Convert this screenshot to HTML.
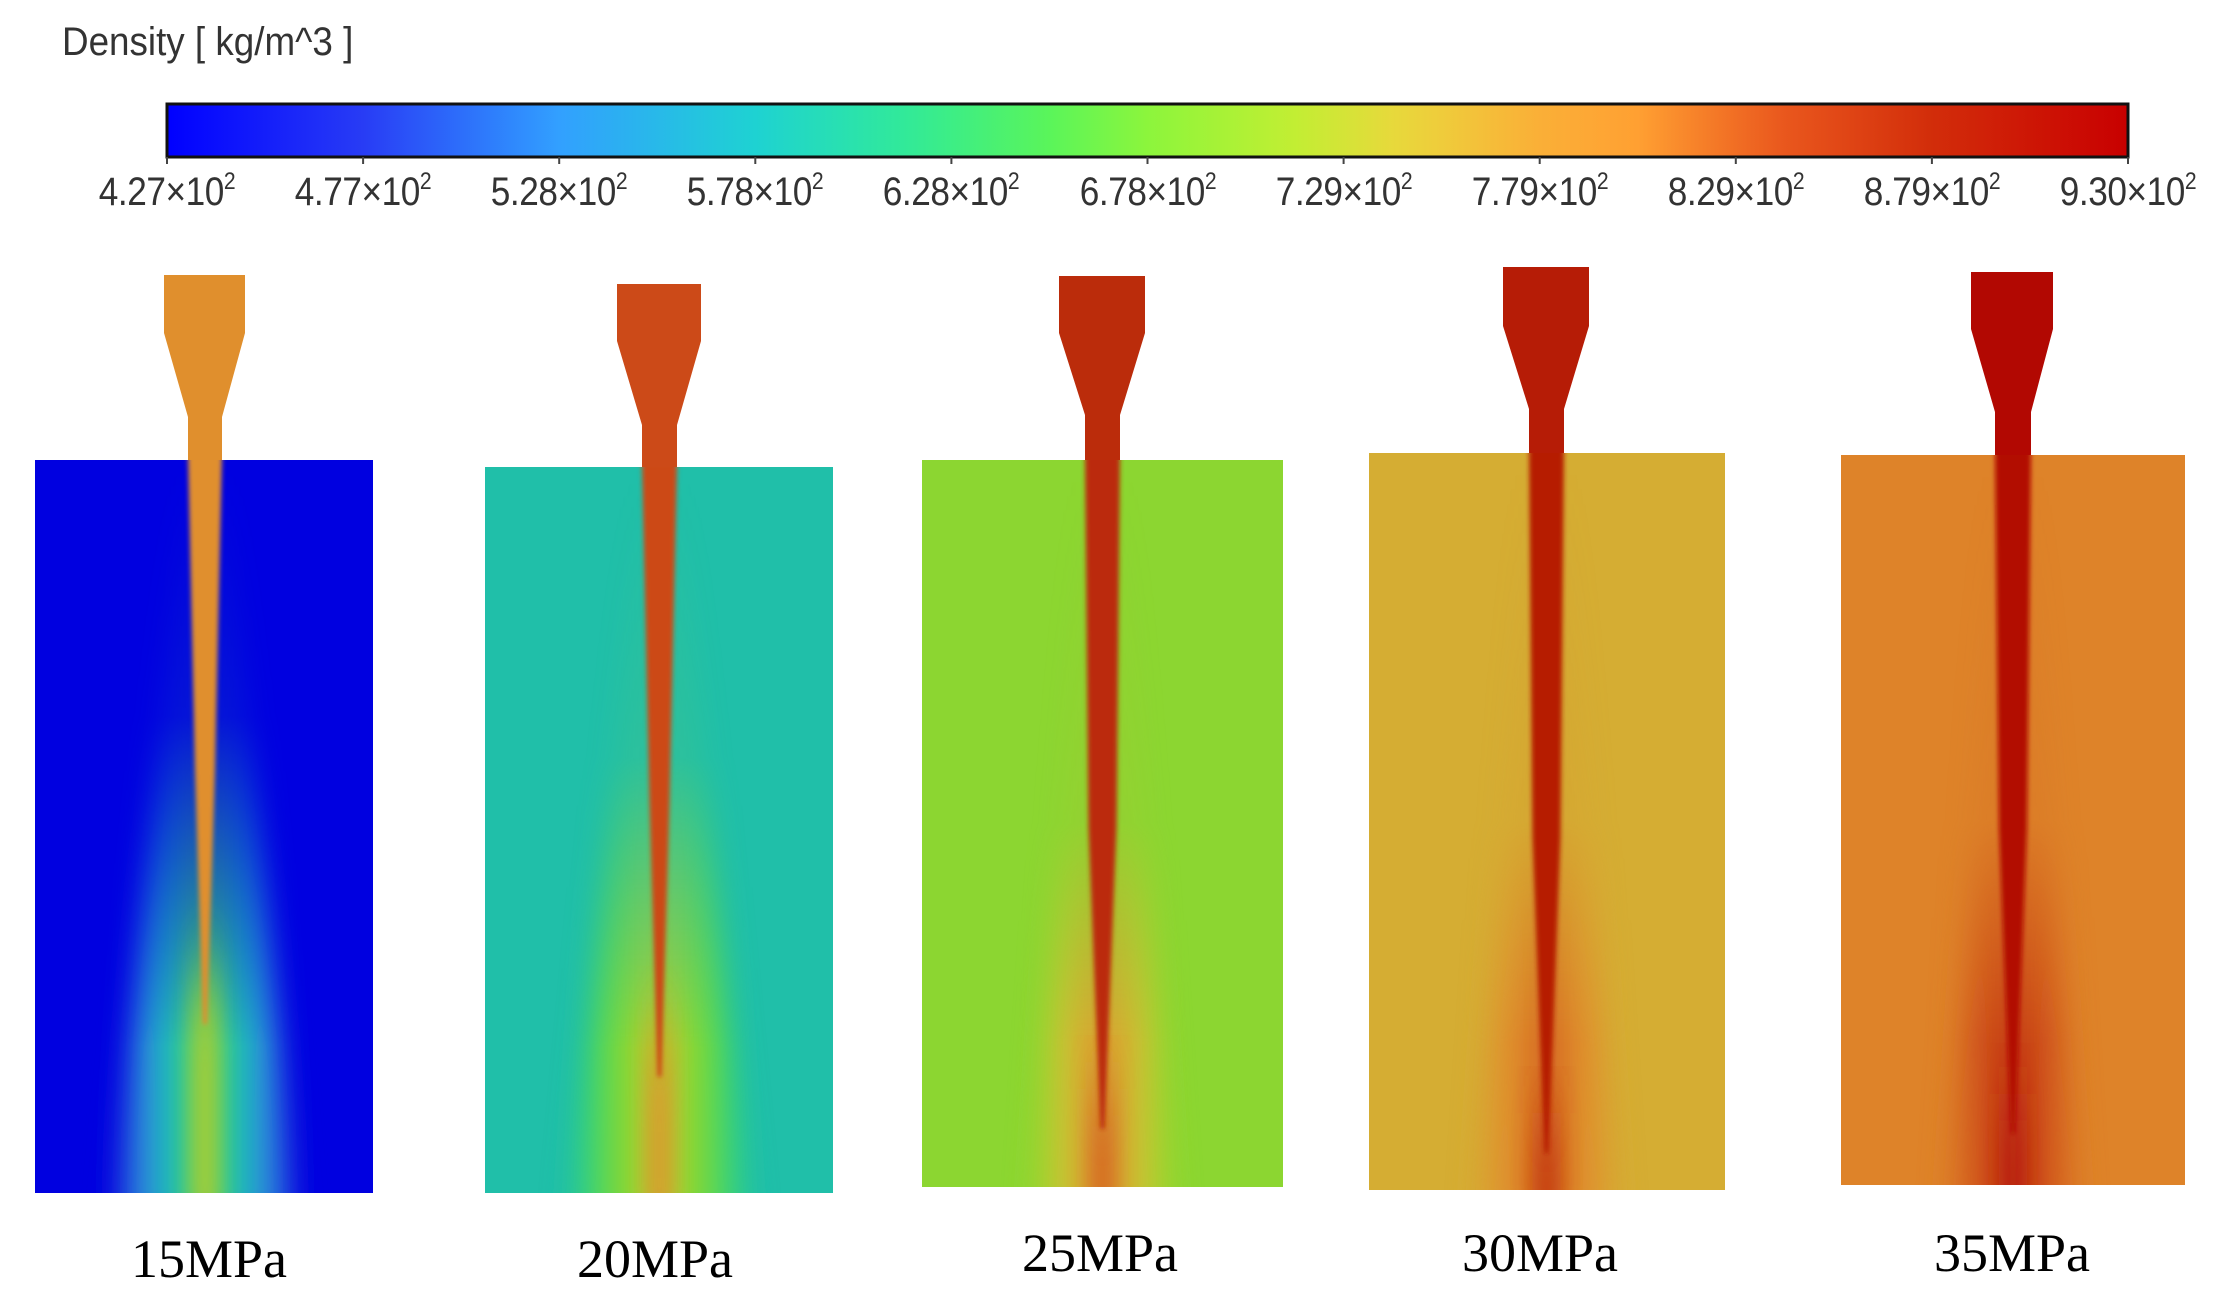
<!DOCTYPE html>
<html><head><meta charset="utf-8">
<style>
html,body{margin:0;padding:0;background:#fff;}
#root{position:relative;width:2217px;height:1304px;overflow:hidden;background:#fff;}
svg{position:absolute;left:0;top:0;}
.tick{position:absolute;top:170px;font-family:"Liberation Sans",sans-serif;font-size:40px;color:#333;transform:translateX(-50%) scaleX(0.88);white-space:nowrap;letter-spacing:-0.5px;}
.tick sup{font-size:24px;vertical-align:0;position:relative;top:-16px;}
.lbl{position:absolute;font-family:"Liberation Serif",serif;font-size:54px;color:#000;transform:translateX(-50%);white-space:nowrap;}
</style></head>
<body>
<div id="root">
<div style="position:absolute;left:62px;top:20px;font-family:'Liberation Sans',sans-serif;font-size:40px;color:#333;transform:scaleX(0.92);transform-origin:left top;white-space:nowrap;">Density [ kg/m^3 ]</div>
<svg id="sv" width="2217" height="1304"></svg>
</div>
<script>
const pressures = ["15MPa","20MPa","25MPa","30MPa","35MPa"];
const ambientDensity = [427, 590, 692, 760, 810];
const jetDensity = [800, 845, 875, 895, 920];
const haloDensity = [650, 730, 780, 830, 860];
const tipFraction = [0.77, 0.84, 0.92, 0.95, 0.93];
const tickLabels = ["4.27","4.77","5.28","5.78","6.28","6.78","7.29","7.79","8.29","8.79","9.30"];
const dMin = 427, dMax = 930;

const NS = "http://www.w3.org/2000/svg";
const sv = document.getElementById('sv');
const root = document.getElementById('root');
const cmap = [[0,0,0,255],[0.1,40,60,245],[0.2,50,160,255],[0.3,30,210,210],[0.38,50,235,150],[0.45,90,245,90],[0.5,140,245,60],[0.57,190,240,50],[0.63,235,215,60],[0.7,250,175,55],[0.75,255,160,50],[0.82,235,90,30],[0.9,210,45,10],[1,200,0,0]];
function cm(d, k){
  let t = Math.max(0, Math.min(1, (d - dMin) / (dMax - dMin)));
  let i = 0; while (i < cmap.length - 2 && t > cmap[i+1][0]) i++;
  const a = cmap[i], b = cmap[i+1], f = (t - a[0]) / (b[0] - a[0]);
  const c = [1,2,3].map(j => Math.round((a[j] + (b[j]-a[j]) * f) * k));
  return `rgb(${c[0]},${c[1]},${c[2]})`;
}
function mk(tag, attrs, parent){ const e = document.createElementNS(NS, tag); for (const k in attrs) e.setAttribute(k, attrs[k]); (parent||sv).appendChild(e); return e; }

const defs = mk('defs', {});
const cbX0 = 167, cbX1 = 2128, cbY0 = 104, cbY1 = 157;
const cbg = mk('linearGradient', {id:'cbg', x1:0, x2:1, y1:0, y2:0}, defs);
for (let s = 0; s <= 40; s++) { mk('stop', {offset: s/40, 'stop-color': cm(dMin + (dMax-dMin)*s/40, 1)}, cbg); }
const cb = mk('rect', {x:cbX0, y:cbY0, width:cbX1-cbX0, height:cbY1-cbY0, fill:'url(#cbg)', stroke:'#111', 'stroke-width':3});


function xTick(i){ return cbX0 + (cbX1 - cbX0) * i / (tickLabels.length - 1); }
tickLabels.forEach((lab, i) => {
  const x = xTick(i);
  const tk = mk('line', {x1:x, x2:x, y1:cbY1, y2:cbY1+7, stroke:'#444', 'stroke-width':2});
  
  
  const d = document.createElement('div');
  d.className = 'tick';
  d.style.left = x + 'px';
  d.innerHTML = lab + '×10<sup>2</sup>';
  
  
  root.appendChild(d);
});

const P = [
 {x0:35,x1:373,y0:460,y1:1193,nt:275,bx0:164,bx1:245,bb:333,te:417,th0:188,th1:222,lx:209,ly:1238,hw:95,ms:0.35},
 {x0:485,x1:833,y0:467,y1:1193,nt:284,bx0:617,bx1:701,bb:341,te:425,th0:642,th1:677,lx:655,ly:1238,hw:90,ms:0.4},
 {x0:922,x1:1283,y0:460,y1:1187,nt:276,bx0:1059,bx1:1145,bb:333,te:415,th0:1085,th1:1120,lx:1100,ly:1232,hw:70,ms:0.5},
 {x0:1369,x1:1725,y0:453,y1:1190,nt:267,bx0:1503,bx1:1589,bb:326,te:409,th0:1529,th1:1564,lx:1540,ly:1232,hw:70,ms:0.5},
 {x0:1841,x1:2185,y0:455,y1:1185,nt:272,bx0:1971,bx1:2053,bb:329,te:412,th0:1995,th1:2031,lx:2012,ly:1232,hw:65,ms:0.5}
];
const K = 0.88;
const blur = mk('filter', {id:'bl', x:'-50%', y:'-20%', width:'200%', height:'140%'}, defs);
mk('feGaussianBlur', {stdDeviation:'14 10'}, blur);
const blur3 = mk('filter', {id:'bl3', x:'-100%', y:'-30%', width:'300%', height:'160%'}, defs);
mk('feGaussianBlur', {stdDeviation:'10 40'}, blur3);
const blur2 = mk('filter', {id:'bl2', x:'-50%', y:'-10%', width:'200%', height:'120%'}, defs);
mk('feGaussianBlur', {stdDeviation:'2.5'}, blur2);

pressures.forEach((p, i) => {
  const g = P[i];
  const amb = cm(ambientDensity[i], K), jet = cm(jetDensity[i], K);
  const cx = (g.th0 + g.th1) / 2, H = g.y1 - g.y0;
  const grp = mk('g', {});
  
  
  const clip = mk('clipPath', {id:'cp'+i}, defs);
  mk('rect', {x:g.x0, y:g.y0, width:g.x1-g.x0, height:H}, clip);
  const bg = mk('rect', {x:g.x0, y:g.y0, width:g.x1-g.x0, height:H, fill:amb}, grp);
  
  
  const hg = mk('linearGradient', {id:'hg'+i, x1:0, x2:1, y1:0, y2:0}, defs);
  for (let s = 0; s <= 20; s++) {
    const t = s / 20, w = 1 - Math.abs(t - 0.5) * 2;
    const d = ambientDensity[i] + (haloDensity[i] - ambientDensity[i]) * Math.pow(w, 0.8);
    mk('stop', {offset:t, 'stop-color':cm(d, K)}, hg);
  }
  const vm = mk('linearGradient', {id:'vm'+i, x1:0, x2:0, y1:0, y2:1}, defs);
  mk('stop', {offset:0, 'stop-color':'#fff', 'stop-opacity':0}, vm);
  mk('stop', {offset:g.ms, 'stop-color':'#fff', 'stop-opacity':0.1}, vm);
  mk('stop', {offset:0.8, 'stop-color':'#fff', 'stop-opacity':1}, vm);
  mk('stop', {offset:1, 'stop-color':'#fff', 'stop-opacity':1}, vm);
  const mask = mk('mask', {id:'mk'+i, maskUnits:'userSpaceOnUse', x:g.x0, y:g.y0, width:g.x1-g.x0, height:H}, defs);
  mk('rect', {x:g.x0, y:g.y0, width:g.x1-g.x0, height:H, fill:'url(#vm'+i+')'}, mask);
  const cg = mk('g', {'clip-path':'url(#cp'+i+')'}, grp);
  const halo = mk('polygon', {points:`${cx-20},${g.y0} ${cx+20},${g.y0} ${cx+g.hw},${g.y1+20} ${cx-g.hw},${g.y1+20}`, fill:'url(#hg'+i+')', mask:'url(#mk'+i+')', filter:'url(#bl)'}, cg);
  
  
  const tipY = g.y0 + H * tipFraction[i];
  const stripe = mk('rect', {x:cx-14, y:tipY-40, width:28, height:g.y1-tipY+120, fill:cm((jetDensity[i]+haloDensity[i])/2, K), filter:'url(#bl3)', opacity:0.85}, cg);
  
  
  const midY = g.y0 + (tipY - g.y0) * 0.55;
  const midHalf = i >= 2 ? 14 : 10;
  const core = mk('polygon', {points:`${g.th0},${g.y0-5} ${g.th1},${g.y0-5} ${cx+midHalf},${midY} ${cx+2},${tipY} ${cx-2},${tipY} ${cx-midHalf},${midY}`, fill:jet, filter:'url(#bl2)'}, cg);
  
  
  const noz = mk('polygon', {points:`${g.bx0},${g.nt} ${g.bx1},${g.nt} ${g.bx1},${g.bb} ${g.th1},${g.te} ${g.th1},${g.y0} ${g.th0},${g.y0} ${g.th0},${g.te} ${g.bx0},${g.bb}`, fill:jet}, grp);
  
  
  const l = document.createElement('div');
  l.className = 'lbl';
  l.style.left = g.lx + 'px';
  l.style.top = g.ly + 'px';
  l.style.lineHeight = '1';
  l.style.marginTop = '-6px';
  l.textContent = p;
  
  
  root.appendChild(l);
});
</script>
</body></html>
